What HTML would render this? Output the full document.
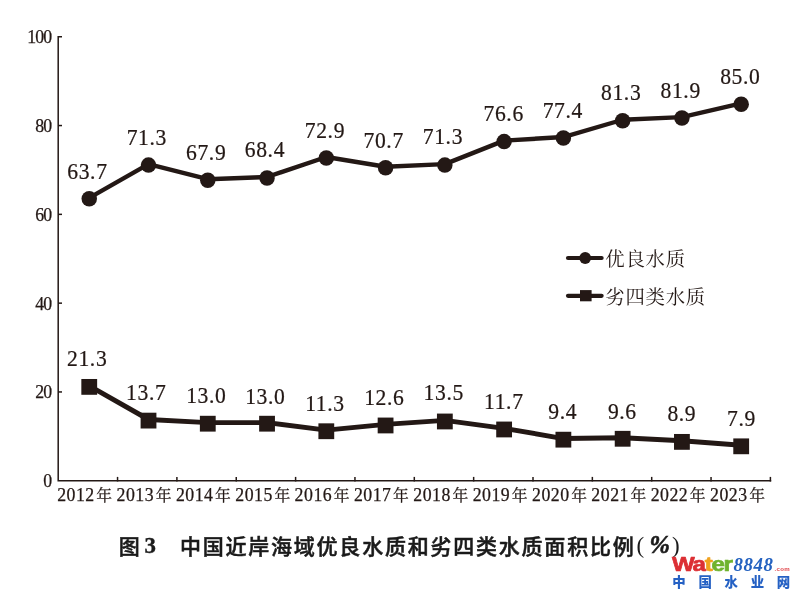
<!DOCTYPE html>
<html lang="zh-CN">
<head>
<meta charset="utf-8">
<title>图 3 中国近岸海域优良水质和劣四类水质面积比例(%)</title>
<style>
html,body{margin:0;padding:0;background:#fff;}
body{width:800px;height:600px;overflow:hidden;}
svg{display:block;will-change:transform;}
.num{font-family:"Liberation Serif","Noto Serif CJK SC",serif;fill:#231815;}
.song{font-family:"Liberation Serif","Noto Serif CJK SC",serif;fill:#231815;}
.hei{font-family:"Liberation Sans","Noto Sans CJK SC",sans-serif;font-weight:500;fill:#1a1a1a;}
</style>
</head>
<body>
<svg width="800" height="600" viewBox="0 0 800 600">
<rect width="800" height="600" fill="#ffffff"/>
<defs><filter id="gs" x="0" y="0" width="800" height="600" filterUnits="userSpaceOnUse" color-interpolation-filters="sRGB"><feOffset dx="0" dy="0"/></filter></defs>
<g filter="url(#gs)">

<g stroke="#231815" stroke-width="1.5" fill="none" stroke-linecap="butt">
<path d="M58.20 36 V480.75 H771.2"/>
<path d="M58.20 391.95 h3.8"/>
<path d="M58.20 303.15 h3.8"/>
<path d="M58.20 214.35 h3.8"/>
<path d="M58.20 125.55 h3.8"/>
<path d="M58.20 36.75 h3.8"/>
<path d="M117.55 481.50 v-4.6"/>
<path d="M176.90 481.50 v-4.6"/>
<path d="M236.25 481.50 v-4.6"/>
<path d="M295.60 481.50 v-4.6"/>
<path d="M354.95 481.50 v-4.6"/>
<path d="M414.30 481.50 v-4.6"/>
<path d="M473.65 481.50 v-4.6"/>
<path d="M533.00 481.50 v-4.6"/>
<path d="M592.35 481.50 v-4.6"/>
<path d="M651.70 481.50 v-4.6"/>
<path d="M711.05 481.50 v-4.6"/>
<path d="M770.40 481.50 v-4.6"/>
</g>
<g class="num" font-size="17.80" text-anchor="end" letter-spacing="-0.90" stroke="#231815" stroke-width="0.25">
<text x="51.20" y="487.15">0</text>
<text x="51.20" y="398.35">20</text>
<text x="51.20" y="309.55">40</text>
<text x="51.20" y="220.75">60</text>
<text x="51.20" y="131.95">80</text>
<text x="51.20" y="43.15">100</text>
</g>
<g class="song" font-size="17.80" letter-spacing="0.50" stroke="#231815" stroke-width="0.25">
<text x="57.20" y="501.40">2012<tspan font-size="15.80" dx="1.60" dy="-0.10">年</tspan></text>
<text x="116.55" y="501.40">2013<tspan font-size="15.80" dx="1.60" dy="-0.10">年</tspan></text>
<text x="175.90" y="501.40">2014<tspan font-size="15.80" dx="1.60" dy="-0.10">年</tspan></text>
<text x="235.25" y="501.40">2015<tspan font-size="15.80" dx="1.60" dy="-0.10">年</tspan></text>
<text x="294.60" y="501.40">2016<tspan font-size="15.80" dx="1.60" dy="-0.10">年</tspan></text>
<text x="353.95" y="501.40">2017<tspan font-size="15.80" dx="1.60" dy="-0.10">年</tspan></text>
<text x="413.30" y="501.40">2018<tspan font-size="15.80" dx="1.60" dy="-0.10">年</tspan></text>
<text x="472.65" y="501.40">2019<tspan font-size="15.80" dx="1.60" dy="-0.10">年</tspan></text>
<text x="532.00" y="501.40">2020<tspan font-size="15.80" dx="1.60" dy="-0.10">年</tspan></text>
<text x="591.35" y="501.40">2021<tspan font-size="15.80" dx="1.60" dy="-0.10">年</tspan></text>
<text x="650.70" y="501.40">2022<tspan font-size="15.80" dx="1.60" dy="-0.10">年</tspan></text>
<text x="710.05" y="501.40">2023<tspan font-size="15.80" dx="1.60" dy="-0.10">年</tspan></text>
</g>
<g fill="none" stroke="#231815" stroke-linejoin="round" stroke-linecap="round">
<polyline stroke-width="4.4" points="89.24,197.83 148.51,164.12 207.78,179.20 267.04,176.98 326.31,157.02 385.58,166.78 444.85,164.12 504.12,140.61 563.38,137.06 622.65,119.76 681.92,117.10 741.19,103.35"/>
<polyline stroke-width="4.9" points="89.24,385.79 148.51,419.50 207.78,422.60 267.04,422.60 326.31,430.14 385.58,424.37 444.85,420.38 504.12,428.37 563.38,438.57 622.65,437.68 681.92,440.78 741.19,445.22"/>
</g>
<g fill="#231815">
<circle cx="89.24" cy="198.83" r="7.75"/>
<circle cx="148.51" cy="165.12" r="7.75"/>
<circle cx="207.78" cy="180.20" r="7.75"/>
<circle cx="267.04" cy="177.98" r="7.75"/>
<circle cx="326.31" cy="158.02" r="7.75"/>
<circle cx="385.58" cy="167.78" r="7.75"/>
<circle cx="444.85" cy="165.12" r="7.75"/>
<circle cx="504.12" cy="141.61" r="7.75"/>
<circle cx="563.38" cy="138.06" r="7.75"/>
<circle cx="622.65" cy="120.76" r="7.75"/>
<circle cx="681.92" cy="118.10" r="7.75"/>
<circle cx="741.19" cy="104.35" r="7.75"/>
<rect x="81.34" y="378.99" width="15.8" height="15.8"/>
<rect x="140.61" y="412.70" width="15.8" height="15.8"/>
<rect x="199.88" y="415.80" width="15.8" height="15.8"/>
<rect x="259.14" y="415.80" width="15.8" height="15.8"/>
<rect x="318.41" y="423.34" width="15.8" height="15.8"/>
<rect x="377.68" y="417.57" width="15.8" height="15.8"/>
<rect x="436.95" y="413.58" width="15.8" height="15.8"/>
<rect x="496.22" y="421.57" width="15.8" height="15.8"/>
<rect x="555.48" y="431.77" width="15.8" height="15.8"/>
<rect x="614.75" y="430.88" width="15.8" height="15.8"/>
<rect x="674.02" y="433.98" width="15.8" height="15.8"/>
<rect x="733.29" y="438.42" width="15.8" height="15.8"/>
</g>
<g class="num" font-size="24.00" text-anchor="middle" letter-spacing="0.70" stroke="#231815" stroke-width="0.25">
<text transform="translate(87.41 178.95) scale(0.900 1)">63.7</text>
<text transform="translate(146.81 145.20) scale(0.900 1)">71.3</text>
<text transform="translate(206.16 159.70) scale(0.900 1)">67.9</text>
<text transform="translate(264.92 157.20) scale(0.900 1)">68.4</text>
<text transform="translate(324.92 137.70) scale(0.900 1)">72.9</text>
<text transform="translate(383.67 148.20) scale(0.900 1)">70.7</text>
<text transform="translate(442.92 144.45) scale(0.900 1)">71.3</text>
<text transform="translate(503.67 120.95) scale(0.900 1)">76.6</text>
<text transform="translate(562.82 117.70) scale(0.900 1)">77.4</text>
<text transform="translate(621.17 99.70) scale(0.900 1)">81.3</text>
<text transform="translate(680.67 97.70) scale(0.900 1)">81.9</text>
<text transform="translate(740.32 83.95) scale(0.900 1)">85.0</text>
<text transform="translate(87.16 365.95) scale(0.900 1)">21.3</text>
<text transform="translate(146.22 400.20) scale(0.900 1)">13.7</text>
<text transform="translate(206.31 403.45) scale(0.900 1)">13.0</text>
<text transform="translate(265.31 403.95) scale(0.900 1)">13.0</text>
<text transform="translate(324.92 410.95) scale(0.900 1)">11.3</text>
<text transform="translate(384.31 405.20) scale(0.900 1)">12.6</text>
<text transform="translate(443.71 400.20) scale(0.900 1)">13.5</text>
<text transform="translate(503.81 409.45) scale(0.900 1)">11.7</text>
<text transform="translate(562.67 419.45) scale(0.900 1)">9.4</text>
<text transform="translate(622.32 418.95) scale(0.900 1)">9.6</text>
<text transform="translate(681.82 421.45) scale(0.900 1)">8.9</text>
<text transform="translate(741.42 425.95) scale(0.900 1)">7.9</text>
</g>
<g stroke="#231815" stroke-width="4.2" stroke-linecap="round">
<path d="M568 258 H601.6"/><path d="M568 295.8 H601.6"/>
</g>
<circle cx="585.2" cy="258" r="5.9" fill="#231815"/>
<rect x="580" y="290.1" width="11.6" height="11.2" fill="#231815"/>
<g class="song" font-size="19.4" letter-spacing="0.75">
<text x="605.3" y="265.6">优良水质</text>
<text x="605.3" y="303.6">劣四类水质</text>
</g>
<g class="hei" font-size="21.00" letter-spacing="1.78" stroke="#1a1a1a" stroke-width="0.50">
<text x="118.80" y="554.30">图</text>
<text x="179.90" y="554.30">中国近岸海域优良水质和劣四类水质面积比例</text>
</g>
<text x="144.5" y="552.5" font-family="'Liberation Serif',serif" font-weight="bold" font-size="22.8" fill="#1a1a1a" stroke="#1a1a1a" stroke-width="0.4">3</text>
<text x="636.5" y="553" font-family="'Liberation Serif',serif" font-size="23" fill="#1a1a1a">(</text>
<text x="649.6" y="553" font-family="'Liberation Serif',serif" font-weight="bold" font-style="italic" font-size="24.4" fill="#1a1a1a" stroke="#1a1a1a" stroke-width="0.6">%</text>
<text x="672" y="553" font-family="'Liberation Serif',serif" font-size="23" fill="#1a1a1a">)</text>
<g font-family="'Liberation Sans',sans-serif" font-weight="bold" font-size="20.6" letter-spacing="-1.1" stroke-width="0.7" stroke-linejoin="round" transform="translate(672.0 571) scale(1.17 1)">
<text x="0" y="0"><tspan fill="#dc2f34" stroke="#dc2f34">Wa</tspan><tspan fill="#f0a21e" stroke="#f0a21e">t</tspan><tspan fill="#6fb32e" stroke="#6fb32e">er</tspan></text>
</g>
<text x="733.6" y="570.6" font-family="'Liberation Serif',serif" font-style="italic" font-weight="bold" font-size="18.8" letter-spacing="0.55" fill="#2462c0">8848</text>
<text x="774.6" y="570.9" font-family="'Liberation Sans',sans-serif" font-weight="bold" font-size="6.1" letter-spacing="0.25" fill="#e0454a">.com</text>
<text x="672.3" y="587.4" font-family="'Liberation Sans','Noto Sans CJK SC',sans-serif" font-weight="900" font-size="13.4" letter-spacing="12.75" fill="#2561c4">中国水业网</text>
</g>
</svg>
</body>
</html>
